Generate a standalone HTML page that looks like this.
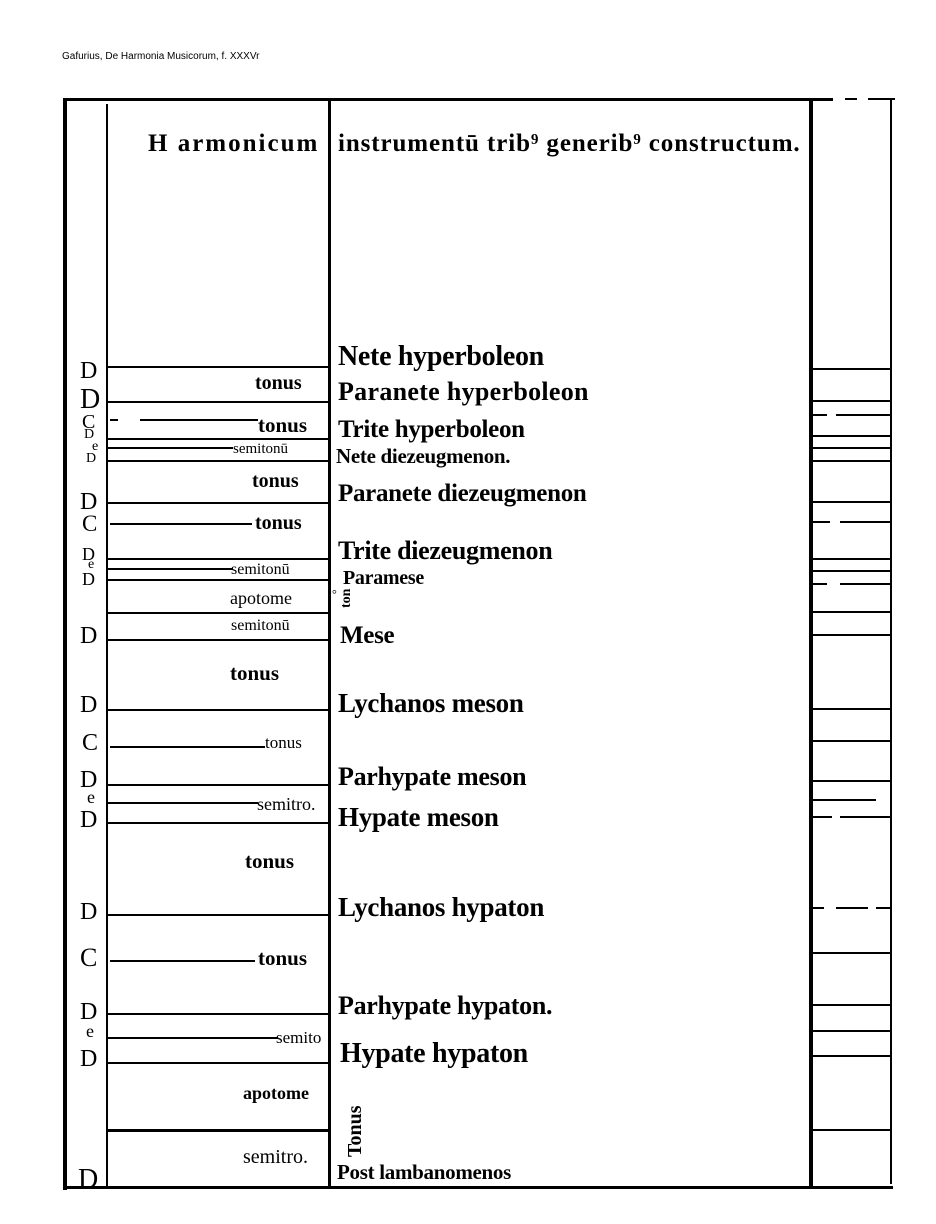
<!DOCTYPE html>
<html><head><meta charset="utf-8"><style>
body{margin:0;background:#fff;}
#c{position:relative;width:936px;height:1224px;overflow:hidden;background:#fff;font-family:"Liberation Serif",serif;color:#000;}
.l{position:absolute;background:#000;}
.t{position:absolute;line-height:1;white-space:nowrap;font-weight:bold;}
.r{position:absolute;line-height:1;white-space:nowrap;}
.n{position:absolute;line-height:1;white-space:nowrap;font-weight:bold;letter-spacing:-0.3px;}
</style></head><body><div id="c">
<div style="position:absolute;left:62px;top:51px;font:10px 'Liberation Sans',sans-serif;">Gafurius, De Harmonia Musicorum, f. XXXVr</div>

<div class="l" style="left:63px;top:98px;width:770px;height:3px;"></div>
<div class="l" style="left:845px;top:98px;width:12px;height:2px;"></div>
<div class="l" style="left:868px;top:98px;width:27px;height:2px;"></div>
<div class="l" style="left:63px;top:100px;width:4px;height:1090px;"></div>
<div class="l" style="left:106px;top:104px;width:2px;height:1084px;"></div>
<div class="l" style="left:328px;top:100px;width:3px;height:1088px;"></div>
<div class="l" style="left:809px;top:100px;width:4px;height:1086px;"></div>
<div class="l" style="left:890px;top:100px;width:2px;height:1084px;"></div>
<div class="l" style="left:63px;top:1186px;width:830px;height:3px;"></div>

<div class="l" style="left:108px;top:366px;width:221px;height:2px;"></div>
<div class="l" style="left:108px;top:401px;width:221px;height:2px;"></div>
<div class="l" style="left:110px;top:419px;width:8px;height:2px;"></div>
<div class="l" style="left:140px;top:419px;width:118px;height:2px;"></div>
<div class="l" style="left:108px;top:438px;width:221px;height:2px;"></div>
<div class="l" style="left:108px;top:447px;width:125px;height:2px;"></div>
<div class="l" style="left:108px;top:460px;width:221px;height:2px;"></div>
<div class="l" style="left:108px;top:502px;width:221px;height:2px;"></div>
<div class="l" style="left:110px;top:523px;width:142px;height:2px;"></div>
<div class="l" style="left:108px;top:558px;width:221px;height:2px;"></div>
<div class="l" style="left:108px;top:568px;width:125px;height:2px;"></div>
<div class="l" style="left:108px;top:579px;width:221px;height:2px;"></div>
<div class="l" style="left:108px;top:612px;width:221px;height:2px;"></div>
<div class="l" style="left:108px;top:639px;width:221px;height:2px;"></div>
<div class="l" style="left:108px;top:709px;width:221px;height:2px;"></div>
<div class="l" style="left:110px;top:746px;width:155px;height:2px;"></div>
<div class="l" style="left:108px;top:784px;width:221px;height:2px;"></div>
<div class="l" style="left:108px;top:802px;width:150px;height:2px;"></div>
<div class="l" style="left:108px;top:822px;width:221px;height:2px;"></div>
<div class="l" style="left:108px;top:914px;width:221px;height:2px;"></div>
<div class="l" style="left:110px;top:960px;width:145px;height:2px;"></div>
<div class="l" style="left:108px;top:1013px;width:221px;height:2px;"></div>
<div class="l" style="left:108px;top:1037px;width:170px;height:2px;"></div>
<div class="l" style="left:108px;top:1062px;width:221px;height:2px;"></div>
<div class="l" style="left:108px;top:1129px;width:221px;height:3px;"></div>

<div class="l" style="left:812px;top:368px;width:79px;height:2px;"></div>
<div class="l" style="left:812px;top:400px;width:79px;height:2px;"></div>
<div class="l" style="left:812px;top:414px;width:15px;height:2px;"></div>
<div class="l" style="left:836px;top:414px;width:55px;height:2px;"></div>
<div class="l" style="left:812px;top:435px;width:79px;height:2px;"></div>
<div class="l" style="left:812px;top:447px;width:79px;height:2px;"></div>
<div class="l" style="left:812px;top:460px;width:79px;height:2px;"></div>
<div class="l" style="left:812px;top:501px;width:79px;height:2px;"></div>
<div class="l" style="left:812px;top:521px;width:18px;height:2px;"></div>
<div class="l" style="left:840px;top:521px;width:51px;height:2px;"></div>
<div class="l" style="left:812px;top:558px;width:79px;height:2px;"></div>
<div class="l" style="left:812px;top:570px;width:79px;height:2px;"></div>
<div class="l" style="left:812px;top:583px;width:15px;height:2px;"></div>
<div class="l" style="left:840px;top:583px;width:51px;height:2px;"></div>
<div class="l" style="left:812px;top:611px;width:79px;height:2px;"></div>
<div class="l" style="left:812px;top:634px;width:79px;height:2px;"></div>
<div class="l" style="left:812px;top:708px;width:79px;height:2px;"></div>
<div class="l" style="left:812px;top:740px;width:79px;height:2px;"></div>
<div class="l" style="left:812px;top:780px;width:79px;height:2px;"></div>
<div class="l" style="left:812px;top:799px;width:64px;height:2px;"></div>
<div class="l" style="left:812px;top:816px;width:20px;height:2px;"></div>
<div class="l" style="left:840px;top:816px;width:51px;height:2px;"></div>
<div class="l" style="left:812px;top:907px;width:12px;height:2px;"></div>
<div class="l" style="left:836px;top:907px;width:32px;height:2px;"></div>
<div class="l" style="left:876px;top:907px;width:15px;height:2px;"></div>
<div class="l" style="left:812px;top:952px;width:79px;height:2px;"></div>
<div class="l" style="left:812px;top:1004px;width:79px;height:2px;"></div>
<div class="l" style="left:812px;top:1030px;width:79px;height:2px;"></div>
<div class="l" style="left:812px;top:1055px;width:79px;height:2px;"></div>
<div class="l" style="left:812px;top:1129px;width:79px;height:2px;"></div>

<div class="t" style="left:148px;top:131px;font-size:25px;letter-spacing:2px;">H armonicum</div>
<div class="t" style="left:338px;top:131px;font-size:25px;letter-spacing:0.9px;">instrumentū trib⁹ generib⁹ constructum.</div>

<div class="r" style="left:80px;top:359px;font-size:24px;">D</div>
<div class="r" style="left:80px;top:386px;font-size:28px;">D</div>
<div class="r" style="left:82px;top:412px;font-size:20px;">C</div>
<div class="r" style="left:84px;top:428px;font-size:14px;">D</div>
<div class="r" style="left:92px;top:440px;font-size:14px;">e</div>
<div class="r" style="left:86px;top:452px;font-size:14px;">D</div>
<div class="r" style="left:80px;top:490px;font-size:24px;">D</div>
<div class="r" style="left:82px;top:512px;font-size:23px;">C</div>
<div class="r" style="left:82px;top:545px;font-size:18px;">D</div>
<div class="r" style="left:88px;top:558px;font-size:14px;">e</div>
<div class="r" style="left:82px;top:570px;font-size:18px;">D</div>
<div class="r" style="left:80px;top:624px;font-size:24px;">D</div>
<div class="r" style="left:80px;top:693px;font-size:24px;">D</div>
<div class="r" style="left:82px;top:731px;font-size:24px;">C</div>
<div class="r" style="left:80px;top:768px;font-size:24px;">D</div>
<div class="r" style="left:87px;top:788px;font-size:18px;">e</div>
<div class="r" style="left:80px;top:808px;font-size:24px;">D</div>
<div class="r" style="left:80px;top:900px;font-size:24px;">D</div>
<div class="r" style="left:80px;top:945px;font-size:26px;">C</div>
<div class="r" style="left:80px;top:1000px;font-size:24px;">D</div>
<div class="r" style="left:86px;top:1022px;font-size:18px;">e</div>
<div class="r" style="left:80px;top:1047px;font-size:24px;">D</div>
<div class="r" style="left:78px;top:1166px;font-size:28px;">D</div>

<div class="t" style="left:255px;top:373px;font-size:20px;">tonus</div>
<div class="t" style="left:258px;top:415px;font-size:21px;">tonus</div>
<div class="r" style="left:233px;top:442px;font-size:15px;">semitonū</div>
<div class="t" style="left:252px;top:471px;font-size:20px;">tonus</div>
<div class="t" style="left:255px;top:513px;font-size:20px;">tonus</div>
<div class="r" style="left:231px;top:562px;font-size:16px;">semitonū</div>
<div class="r" style="left:230px;top:589px;font-size:18px;">apotome</div>
<div class="r" style="left:231px;top:618px;font-size:16px;">semitonū</div>
<div class="t" style="left:230px;top:663px;font-size:21px;">tonus</div>
<div class="r" style="left:265px;top:734px;font-size:17px;">tonus</div>
<div class="r" style="left:257px;top:795px;font-size:18px;">semitro.</div>
<div class="t" style="left:245px;top:851px;font-size:21px;">tonus</div>
<div class="t" style="left:258px;top:948px;font-size:21px;">tonus</div>
<div class="r" style="left:276px;top:1029px;font-size:17px;">semito</div>
<div class="t" style="left:243px;top:1084px;font-size:18px;">apotome</div>
<div class="r" style="left:243px;top:1147px;font-size:20px;">semitro.</div>

<div class="n" style="left:338px;top:343px;font-size:28px;">Nete hyperboleon</div>
<div class="n" style="left:338px;top:379px;font-size:26px;letter-spacing:0.3px;">Paranete hyperboleon</div>
<div class="n" style="left:338px;top:417px;font-size:25px;">Trite hyperboleon</div>
<div class="n" style="left:336px;top:446px;font-size:21px;">Nete diezeugmenon.</div>
<div class="n" style="left:338px;top:481px;font-size:25px;">Paranete diezeugmenon</div>
<div class="n" style="left:338px;top:538px;font-size:26px;">Trite diezeugmenon</div>
<div class="n" style="left:343px;top:568px;font-size:20px;">Paramese</div>
<div class="r" style="left:332px;top:588px;font-size:12px;">°</div>
<div class="t" style="left:340px;top:608px;font-size:14px;transform:rotate(-90deg);transform-origin:left top;">ton</div>
<div class="n" style="left:340px;top:623px;font-size:25px;">Mese</div>
<div class="n" style="left:338px;top:690px;font-size:27px;">Lychanos meson</div>
<div class="n" style="left:338px;top:764px;font-size:26px;">Parhypate meson</div>
<div class="n" style="left:338px;top:804px;font-size:27px;">Hypate meson</div>
<div class="n" style="left:338px;top:894px;font-size:27px;">Lychanos hypaton</div>
<div class="n" style="left:338px;top:993px;font-size:26px;">Parhypate hypaton.</div>
<div class="n" style="left:340px;top:1040px;font-size:28px;">Hypate hypaton</div>
<div class="t" style="left:345px;top:1157px;font-size:20px;transform:rotate(-90deg);transform-origin:left top;">Tonus</div>
<div class="n" style="left:337px;top:1162px;font-size:21px;">Post lambanomenos</div>
</div></body></html>
